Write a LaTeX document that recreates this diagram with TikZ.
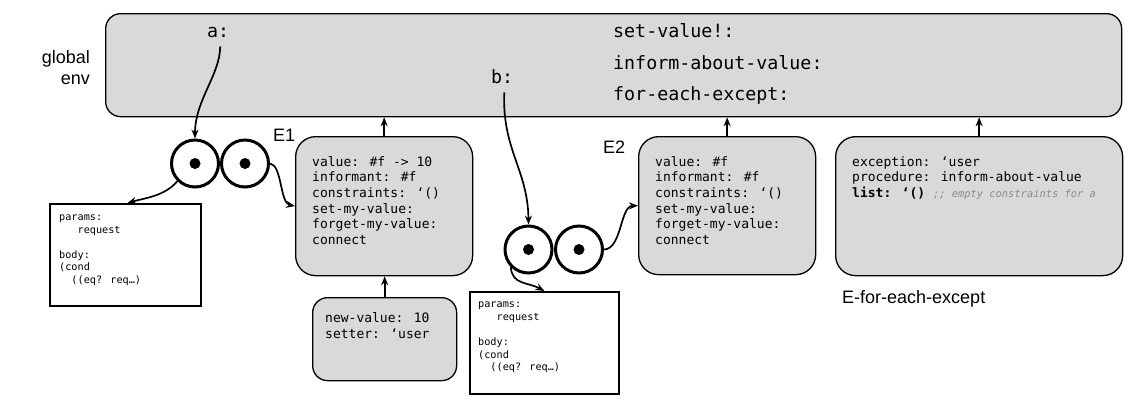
\documentclass[tikz,border=0pt]{standalone}
\usepackage{fontspec}
\setmainfont{Liberation Sans}
\newfontfamily\mono{DejaVu Sans Mono}
\usetikzlibrary{arrows.meta}
\definecolor{envgray}{HTML}{D9D9D9}
\definecolor{cmtgray}{HTML}{8A8A8A}
\tikzset{
  envbox/.style={draw=black, fill=envgray, rounded corners=#1, line width=1.3pt, inner sep=0pt, anchor=north west},
  envbox/.default=20pt,
  codebox/.style={draw=black, fill=white, line width=1.8pt, inner sep=0pt, anchor=north west},
  txt/.style={anchor=north west, inner sep=0pt, align=left},
  bigmono/.style={inner sep=0pt, anchor=base west, font={\mono\fontsize{18.3}{22}\selectfont}},
  midmono/.style={txt, font={\mono\fontsize{13}{15.7}\selectfont}},
  smallmono/.style={txt, font={\mono\fontsize{10.2}{12.6}\selectfont}},
  lbl/.style={inner sep=0pt, anchor=base west, font={\fontsize{18}{21}\selectfont}},
  ring/.style={circle, draw=black, line width=3pt, minimum size=47pt, inner sep=0pt},
  pupil/.style={circle, fill=black, minimum size=11pt, inner sep=0pt},
  arr/.style={-{Stealth[length=9pt,width=7pt,inset=3pt]}, line width=1.7pt},
}
\begin{document}
\begin{tikzpicture}[x=1pt,y=-1pt]
\useasboundingbox (0,0) rectangle (1134,416);

% global environment
\node[envbox=15pt, minimum width=1016pt, minimum height=103pt] (genv) at (105,13) {};
\node[anchor=north east, inner sep=0pt, align=right, font={\fontsize{18}{21.5}\selectfont}] (glbl) at (90,50) {global\\env};
\node[bigmono] (a) at (207,37) {a:};
\node[bigmono] (b) at (491,83) {b:};
\node[bigmono] (sv) at (613,37) {set-value!:};
\node[bigmono] (iav) at (613,69) {inform-about-value:};
\node[bigmono] (fee) at (613,100) {for-each-except:};

% E1
\node[envbox, minimum width=177pt, minimum height=139pt] (E1) at (295,136) {};
\node[midmono] (E1t) at (312,156) {value: \#f -> 10\\informant: \#f\\constraints: ‘()\\set-my-value:\\forget-my-value:\\connect};
\node[lbl] (E1l) at (273,141.5) {E1};

% new-value frame
\node[envbox=15pt, minimum width=144pt, minimum height=83pt] (nv) at (312,297) {};
\node[midmono, font={\mono\fontsize{13}{16}\selectfont}] (nvt) at (325,312.5) {new-value: 10\\setter: ‘user};

% E2
\node[envbox, minimum width=177pt, minimum height=138pt] (E2) at (638,136) {};
\node[midmono] (E2t) at (655,156) {value: \#f\\informant: \#f\\constraints: ‘()\\set-my-value:\\forget-my-value:\\connect};
\node[lbl] (E2l) at (603,153.5) {E2};

% E-for-each-except
\node[envbox, minimum width=287pt, minimum height=139pt] (EF) at (835,136) {};
\node[midmono] (EFt) at (852,156) {exception: ‘user\\procedure: inform-about-value\\{\bfseries list: ‘()} {\fontsize{10.4}{15.7}\selectfont\itshape\color{cmtgray};; empty constraints for a}};
\node[lbl] (EFl) at (842,303) {E-for-each-except};

% procedure objects
\node[ring] (p1l) at (195,163.5) {};
\node[ring] (p1r) at (245,163.5) {};
\node[pupil] (d1l) at (p1l) {};
\node[pupil] (d1r) at (p1r) {};
\node[ring] (p2l) at (528.5,249.5) {};
\node[ring] (p2r) at (579,249.5) {};
\node[pupil] (d2l) at (p2l) {};
\node[pupil] (d2r) at (p2r) {};

% code boxes
\node[codebox, minimum width=151pt, minimum height=102pt] (pb1) at (49,203) {};
\node[smallmono] (pb1t) at (59,214.5) {params:\\\phantom{xxx}request\\\mbox{}\\body:\\(cond\\\phantom{xx}((eq? req…)};
\node[codebox, minimum width=149pt, minimum height=102pt] (pb2) at (469,291) {};
\node[smallmono] (pb2t) at (478,302) {params:\\\phantom{xxx}request\\\mbox{}\\body:\\(cond\\\phantom{xx}((eq? req…)};

% connectors
\draw[arr] ([xshift=2pt,yshift=-9pt]a.south) .. controls (220,75) and (195,100) .. (p1l.north);
\draw[arr] (p1l.-135) .. controls (165,196) and (145,198) .. ([xshift=2pt]pb1.north);
\draw[arr] (p1r.east) .. controls (282,165) and (280,203) .. (E1.west);
\draw[arr] (E1.north) -- (E1.north |- genv.south);
\draw[arr] (nv.north) -- (nv.north |- E1.south);
\draw[arr] ([xshift=2pt,yshift=-9pt]b.south) .. controls (502,150) and (528,170) .. (p2l.north);
\draw[arr] (p2l.-135) .. controls (512,285) and (528,282) .. (pb2.north);
\draw[arr] (p2r.east) .. controls (622,249) and (620,206) .. (E2.west);
\draw[arr] (E2.north) -- (E2.north |- genv.south);
\draw[arr] (EF.north) -- (EF.north |- genv.south);
\end{tikzpicture}
\end{document}
